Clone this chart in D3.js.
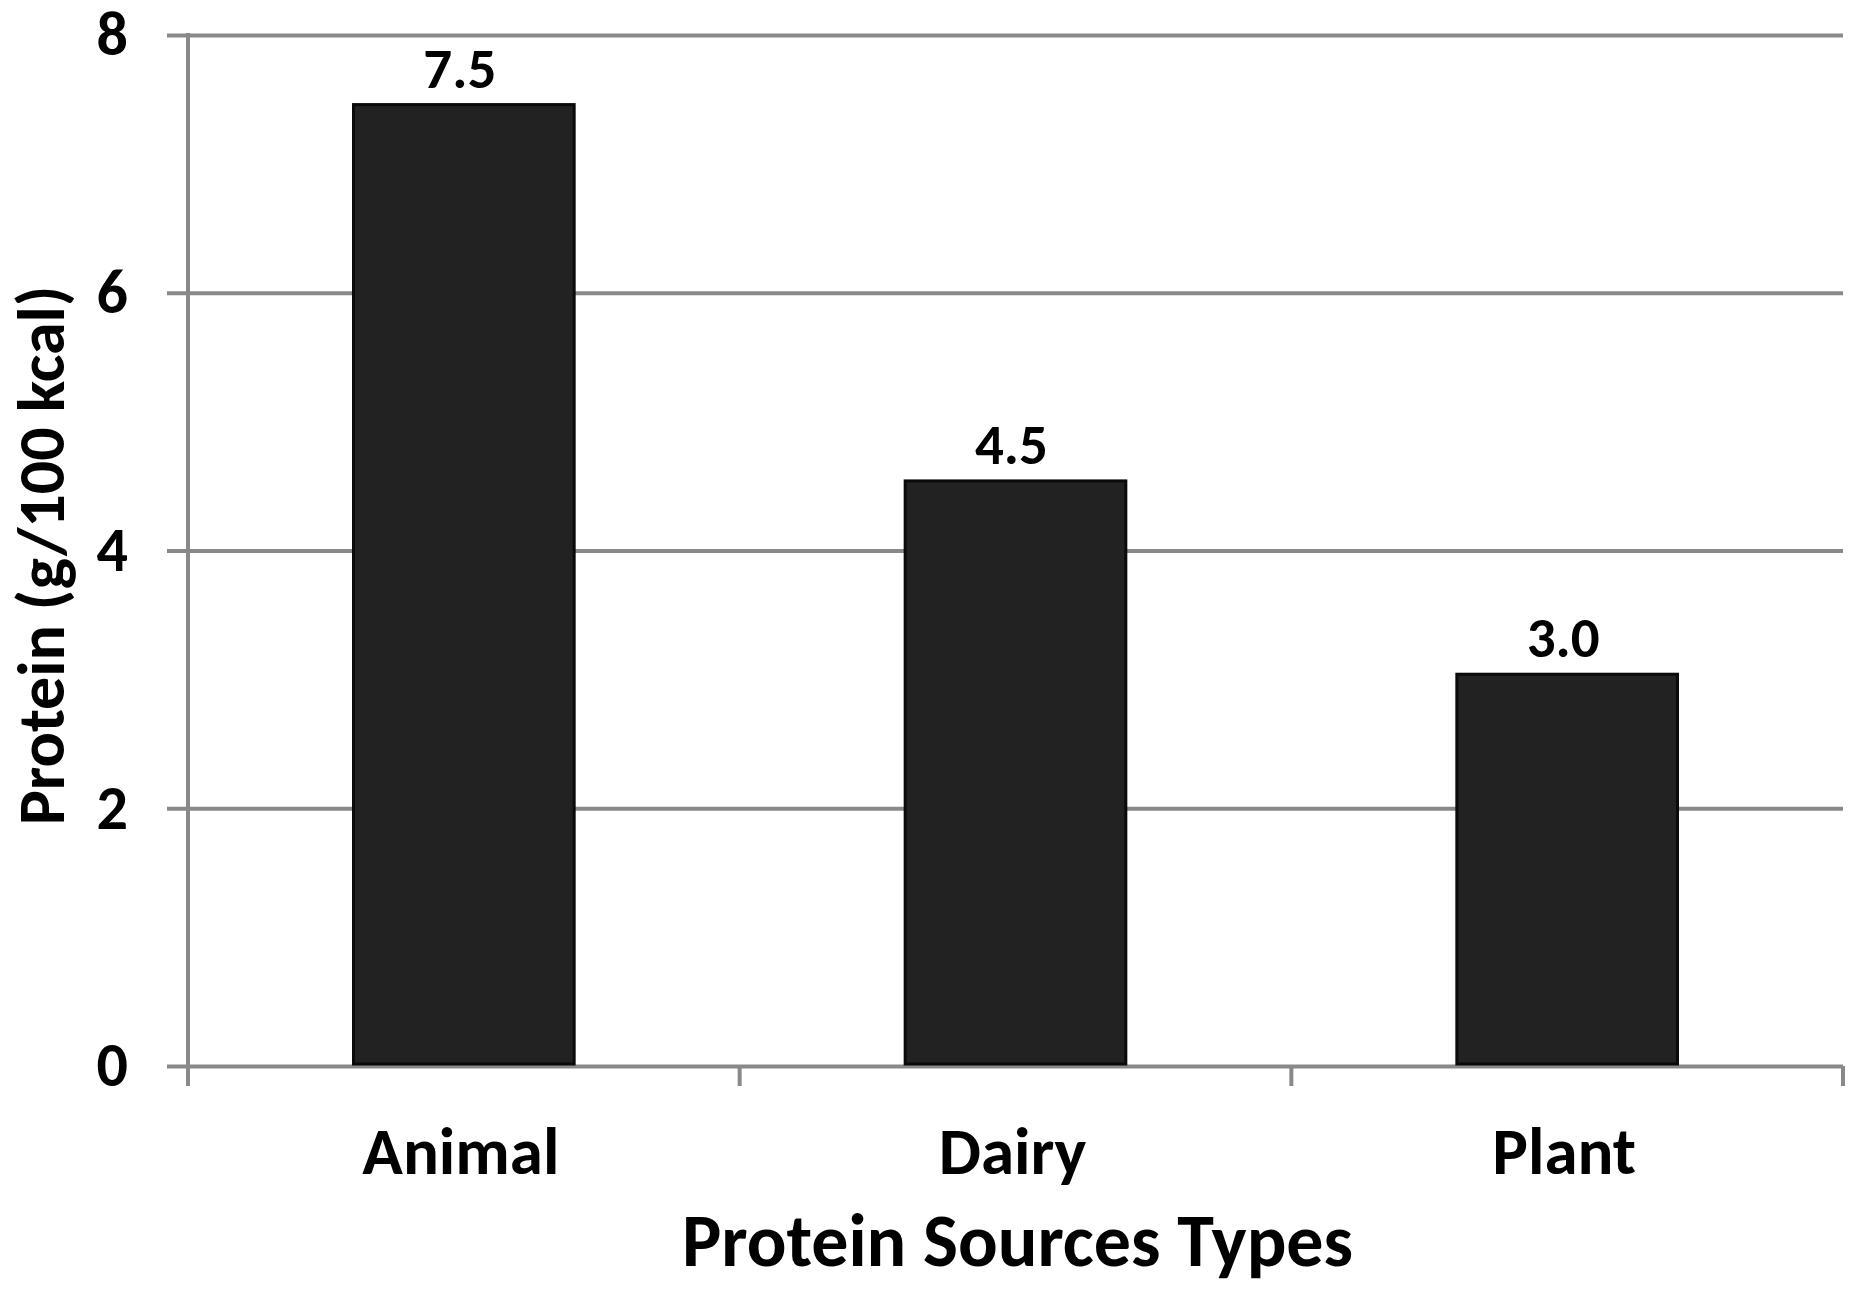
<!DOCTYPE html>
<html>
<head>
<meta charset="utf-8">
<script src="https://cdn.jsdelivr.net/npm/d3@7"></script>
<style>
  html, body { margin: 0; padding: 0; background: #fff; }
  svg text { font-family: Carlito, Lato, "Open Sans", sans-serif; font-weight: bold; fill: #000; }
</style>
</head>
<body>
<svg id="chart" width="1866" height="1293"></svg>
<script>
const categories = ["Animal", "Dairy", "Plant"];
const values = [7.46, 4.54, 3.04];
const yTicks = [0, 2, 4, 6, 8];
const xTitle = "Protein Sources Types";
const yTitle = "Protein (g/100 kcal)";

const svg = d3.select("#chart");
const plotLeft = 188, plotRight = 1843, plotTop = 35, plotBottom = 1066;
const W = plotRight - plotLeft;

const x = d3.scaleBand().domain(categories).range([plotLeft, plotRight]).paddingInner(0.6).paddingOuter(0.3);
const y = d3.scaleLinear().domain([0, 8]).range([plotBottom, plotTop]);

const gridColor = "#898989";

// y axis with gridlines
const yAxis = d3.axisLeft(y).tickValues(yTicks).tickSizeInner(-W).tickSizeOuter(0).tickPadding(0).tickFormat(d3.format("d"));
const gy = svg.append("g").attr("transform", `translate(${plotLeft},0)`).call(yAxis);
gy.select(".domain").remove();
gy.selectAll(".tick line").attr("x1", -21).attr("stroke", gridColor).attr("stroke-width", 4);
gy.selectAll(".tick text").attr("x", -60).attr("dy", "0.32em").attr("text-anchor", "end")
  .style("font-size", "62px");

// vertical axis line
svg.append("line").attr("x1", plotLeft).attr("x2", plotLeft).attr("y1", y(8) - 2).attr("y2", plotBottom + 20)
  .attr("stroke", gridColor).attr("stroke-width", 4);

// x axis ticks at category boundaries
const step = W / categories.length;
const boundaries = d3.range(categories.length + 1).map(i => plotLeft + i * step);
svg.append("g").selectAll("line").data(boundaries).join("line")
  .attr("x1", d => d).attr("x2", d => d).attr("y1", plotBottom).attr("y2", plotBottom + 20)
  .attr("stroke", gridColor).attr("stroke-width", 4);

// bars
svg.append("g").selectAll("rect").data(values).join("rect")
  .attr("x", (d, i) => x(categories[i]))
  .attr("width", x.bandwidth())
  .attr("y", d => y(d))
  .attr("height", d => y(0) - y(d) - 2)
  .attr("fill", "#222222")
  .attr("stroke", "#0a0a0a")
  .attr("stroke-width", 3);

// value labels
svg.append("g").selectAll("text").data(values).join("text")
  .attr("x", (d, i) => x(categories[i]) + x.bandwidth() / 2 - 4)
  .attr("y", d => y(d) - 17)
  .attr("text-anchor", "middle")
  .style("font-size", "57px")
  .text(d => d3.format(".1f")(d));

// category labels
svg.append("g").selectAll("text").data(categories).join("text")
  .attr("x", d => x(d) + x.bandwidth() / 2 - 3)
  .attr("y", 1174)
  .attr("text-anchor", "middle")
  .style("font-size", "67px")
  .text(d => d);

// x title
svg.append("text").attr("x", (plotLeft + plotRight) / 2 + 2).attr("y", 1266)
  .attr("text-anchor", "middle").style("font-size", "74px").text(xTitle);

// y title
svg.append("text").attr("transform", `translate(64,${(plotTop + plotBottom) / 2 + 5}) rotate(-90)`)
  .attr("text-anchor", "middle").style("font-size", "66px").text(yTitle);
</script>
</body>
</html>
